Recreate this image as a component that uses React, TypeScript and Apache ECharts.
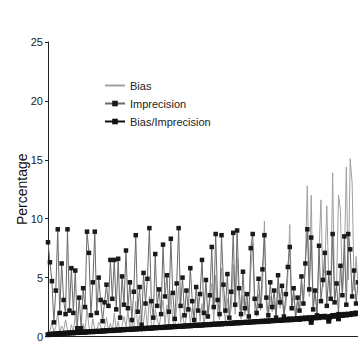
import React, { useEffect, useRef } from "react";
import * as echarts from "echarts";

const yTicks = [0, 5, 10, 15, 20, 25];
const seriesNames = ["Bias", "Imprecision", "Bias/Imprecision"];

const imprecision = [
  8.0, 6.3, 4.7, 1.2, 3.9, 9.1, 2.0, 6.2, 3.1, 1.9, 9.1, 2.2, 5.8, 2.0, 5.6, 0.7, 3.3, 0.7, 4.1, 2.5,
  8.9, 7.1, 1.8, 4.6, 8.9, 2.0, 5.0, 3.1, 1.3, 2.9, 4.4, 2.6, 6.5, 3.2, 6.5, 2.3, 6.6, 1.6, 5.1, 2.7,
  7.3, 2.4, 4.6, 1.4, 3.8, 8.6, 2.1, 4.2, 1.0, 5.4, 2.8, 4.9, 9.2, 3.0, 1.6, 7.0, 2.6, 4.0, 1.9, 7.8,
  3.4, 5.2, 2.1, 8.3, 3.7, 1.5, 4.5, 9.2, 2.6, 5.0, 1.8, 3.9, 2.3, 5.8, 3.0, 1.4, 4.2, 2.2, 3.6, 6.5,
  2.0, 4.8, 1.7, 3.5, 7.6, 2.5, 8.7, 3.1, 1.9, 8.6, 4.4, 2.2, 5.3, 1.6, 3.8, 8.8, 2.7, 9.0, 4.1, 1.9,
  5.5, 2.4, 3.6, 1.7, 7.5, 8.7, 3.2, 2.0, 4.9, 2.6, 5.7, 8.6, 3.3, 1.8, 4.6, 2.5, 3.9, 1.6, 5.2, 2.9,
  4.3, 1.7, 3.6, 5.9, 7.6, 2.4, 4.1, 1.5, 3.3, 2.2, 5.1, 2.8, 6.2, 9.1, 4.0, 8.4, 2.3, 3.9, 1.8, 7.7,
  3.0, 4.8, 7.1, 2.6, 5.4, 3.2, 8.7, 2.9, 4.5, 1.9, 6.0, 3.5, 8.5, 2.7, 8.7, 7.4, 3.4, 5.6, 2.8, 4.6,
];

const bias = [
  0.3, 0.5, 1.2, 0.4, 0.8, 2.1, 0.3, 0.9, 0.5, 1.4, 0.6, 0.2, 1.0, 0.4, 1.8, 0.3, 0.7, 0.2, 1.1, 0.5,
  2.4, 0.8, 0.3, 1.5, 0.6, 0.4, 1.2, 0.9, 0.3, 0.7, 1.6, 0.5, 1.1, 0.4, 2.0, 0.6, 1.3, 0.3, 0.9, 1.7,
  0.8, 2.2, 0.6, 1.4, 0.5, 3.0, 0.9, 1.8, 0.4, 1.2, 2.6, 0.7, 3.4, 1.1, 0.6, 2.3, 1.5, 0.8, 2.0, 3.1,
  1.0, 2.7, 0.9, 3.6, 1.4, 0.7, 2.5, 4.2, 1.2, 2.0, 0.8, 1.7, 2.9, 1.1, 2.4, 0.9, 1.6, 3.3, 1.3, 2.8,
  1.0, 2.2, 1.5, 3.0, 4.5, 1.2, 5.2, 2.0, 1.4, 5.8, 2.6, 1.3, 3.2, 1.6, 2.4, 6.1, 1.9, 6.7, 2.8, 1.5,
  3.5, 1.8, 2.9, 1.4, 5.6, 7.9, 2.3, 1.7, 3.6, 2.2, 4.1, 9.8, 2.5, 1.6, 3.4, 2.1, 3.0, 1.5, 4.2, 2.4,
  3.3, 1.8, 2.7, 5.0, 9.5, 2.2, 3.6, 1.7, 2.9, 2.0, 4.4, 2.6, 6.5, 12.8, 3.4, 12.0, 2.4, 3.8, 2.0, 7.2,
  11.6, 4.2, 5.8, 11.1, 4.6, 3.0, 13.9, 3.2, 4.1, 12.0, 10.7, 3.7, 6.3, 14.4, 4.8, 15.1, 13.0, 3.9, 6.8, 4.4,
];

const biasOverImprecision = [
  0.15, 0.2, 0.18, 0.22, 0.2, 0.25, 0.23, 0.27, 0.25, 0.3, 0.28, 0.3, 0.32, 0.3, 0.34, 0.33, 0.36, 0.35, 0.38, 0.36,
  0.4, 0.39, 0.42, 0.4, 0.44, 0.43, 0.45, 0.44, 0.48, 0.46, 0.5, 0.49, 0.52, 0.5, 0.54, 0.53, 0.56, 0.55, 0.58, 0.57,
  0.6, 0.59, 0.62, 0.6, 0.64, 0.63, 0.66, 0.65, 0.68, 0.66, 0.7, 0.69, 0.72, 0.7, 0.74, 0.73, 0.76, 0.75, 0.78, 0.76,
  0.8, 0.79, 0.82, 0.8, 0.84, 0.83, 0.86, 0.85, 0.88, 0.86, 0.9, 0.89, 0.92, 0.9, 0.94, 0.93, 0.96, 0.95, 0.98, 0.96,
  1.0, 0.99, 1.02, 1.0, 1.04, 1.03, 1.06, 1.05, 1.08, 1.06, 1.1, 1.09, 1.12, 1.1, 1.14, 1.13, 1.16, 1.15, 1.18, 1.16,
  1.2, 1.19, 1.22, 1.2, 1.24, 1.23, 1.26, 1.25, 1.28, 1.26, 1.3, 1.29, 1.32, 1.3, 1.34, 1.33, 1.36, 1.35, 1.38, 1.36,
  1.4, 1.39, 1.45, 1.4, 1.5, 1.42, 1.48, 1.46, 1.52, 1.45, 1.55, 1.5, 1.58, 1.52, 1.6, 1.2, 1.62, 1.58, 1.66, 1.6,
  1.7, 1.64, 1.72, 1.66, 1.3, 1.7, 1.78, 1.72, 1.8, 1.5, 1.85, 1.78, 1.88, 1.82, 1.9, 1.86, 1.95, 1.9, 2.0, 1.95,
];

const categories = imprecision.map((_, i) => String(i + 1));

export default function App() {
  const ref = useRef<HTMLDivElement>(null);
  useEffect(() => {
    document.body.style.margin = "0";
    if (!ref.current) return;
    const chart = echarts.init(ref.current, undefined, { renderer: "svg" });
    const font = "Liberation Sans, Arial, sans-serif";
    chart.setOption({
      animation: false,
      backgroundColor: "#fff",
      grid: { left: 48, right: 0, top: 42, bottom: 2, containLabel: false },
      legend: {
        orient: "vertical",
        left: 99,
        top: 75,
        itemGap: 7,
        itemWidth: 20,
        itemHeight: 7,
        data: [
          { name: seriesNames[0], itemStyle: { opacity: 0 } },
          { name: seriesNames[1] },
          { name: seriesNames[2] },
        ],
        textStyle: { fontFamily: font, fontSize: 11, color: "#222" },
      },
      xAxis: {
        type: "category",
        data: categories,
        boundaryGap: false,
        axisLine: { lineStyle: { color: "#222", width: 1 } },
        axisTick: { show: false },
        axisLabel: { show: false },
        splitLine: { show: false },
      },
      yAxis: {
        type: "value",
        min: yTicks[0],
        max: yTicks[yTicks.length - 1],
        interval: 5,
        name: "Percentage",
        nameLocation: "middle",
        nameGap: 19,
        nameMoveOverlap: false,
        nameTextStyle: { fontFamily: font, fontSize: 14, color: "#111" },
        axisLine: { show: true, lineStyle: { color: "#222", width: 1 } },
        axisTick: { show: true, length: 3, lineStyle: { color: "#222" } },
        axisLabel: { fontFamily: font, fontSize: 11, color: "#222", margin: 5 },
        splitLine: { show: false },
      },
      series: [
        {
          name: seriesNames[0],
          type: "line",
          data: bias,
          symbol: "rect",
          symbolSize: 1,
          showSymbol: false,
          lineStyle: { color: "#a0a0a0", width: 1 },
          itemStyle: { color: "#a0a0a0" },
          z: 2,
        },
        {
          name: seriesNames[1],
          type: "line",
          data: imprecision,
          symbol: "rect",
          symbolSize: 4.5,
          showSymbol: true,
          showAllSymbol: true,
          lineStyle: { color: "#6a6a6a", width: 1 },
          itemStyle: { color: "#1a1a1a" },
          z: 3,
        },
        {
          name: seriesNames[2],
          type: "line",
          data: biasOverImprecision,
          symbol: "rect",
          symbolSize: 5,
          showSymbol: true,
          showAllSymbol: true,
          lineStyle: { color: "#111", width: 4 },
          itemStyle: { color: "#111" },
          z: 4,
        },
      ],
    });
    return () => chart.dispose();
  }, []);
  return <div ref={ref} style={{ width: 358, height: 342 }} />;
}
